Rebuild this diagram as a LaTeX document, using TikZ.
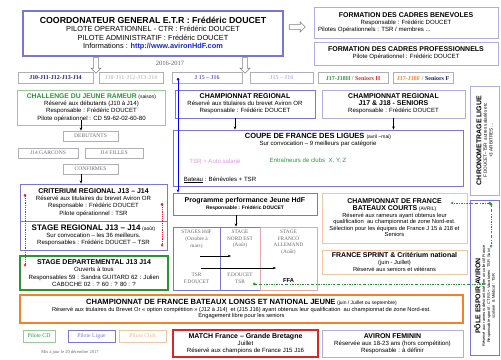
\documentclass[tikz,border=0pt]{standalone}
\usepackage{fontspec}
\setmainfont{Liberation Sans}
\newfontfamily\romain{Liberation Serif}
\usetikzlibrary{arrows,arrows.meta,shapes.arrows,positioning,calc}

\definecolor{ligue}{RGB}{120,120,210}
\definecolor{ligueclair}{RGB}{175,175,222}
\definecolor{gris}{RGB}{175,175,185}
\definecolor{cd}{RGB}{40,150,50}
\definecolor{cdclair}{RGB}{150,205,150}
\definecolor{club}{RGB}{240,130,40}
\definecolor{clubclair}{RGB}{240,200,160}
\definecolor{rouge}{RGB}{225,35,35}
\definecolor{rose}{RGB}{225,170,170}
\definecolor{mauve}{RGB}{225,150,230}
\definecolor{bleufonce}{RGB}{25,25,120}
\definecolor{lien}{RGB}{20,40,200}
\definecolor{violet}{RGB}{110,90,220}
\definecolor{violetclair}{RGB}{200,175,235}

\newcommand{\petit}{\fontsize{6.1}{7.2}\selectfont}
\newcommand{\titre}{\fontsize{7}{8.2}\selectfont\bfseries}
\newcommand{\mini}{\fontsize{5}{6}\selectfont}

\begin{document}
\begin{tikzpicture}
[x=1bp, y=-1bp, >={Stealth[length=3.2bp,width=2.6bp]},
every node/.style={inner sep=1bp, align=center},
taille/.style 2 args={minimum width=#1bp, minimum height=#2bp},
cadre/.style={draw=ligue, line width=0.8bp, font=\petit},
categorie/.style={draw=gris, line width=0.7bp, inner sep=0pt, font=\romain\fontsize{6}{7}\selectfont\bfseries},
niveau/.style={draw=gris, line width=0.6bp, inner sep=0pt, text=gray!85!black, font=\romain\fontsize{5.6}{6.5}\selectfont},
serif/.style={inner sep=0pt, text=gray!80!black, font=\romain\fontsize{5.3}{6.8}\selectfont},
legende/.style={line width=0.7bp, inner sep=0pt, font=\romain\fontsize{5.8}{6.5}\selectfont},
creuse/.style={single arrow, draw=gray, line width=0.6bp, minimum height=16bp, minimum width=10bp, single arrow head extend=2.5bp, inner sep=2bp},
fleche/.style={->, line width=0.7bp},
rouge pointille/.style={draw=rouge, line width=0.8bp, densely dotted, {Circle[length=2.6bp]}->},
vert pointille/.style={draw=cd, line width=0.8bp, dash pattern=on 2bp off 1.3bp on 0.6bp off 1.3bp, {Circle[length=2.6bp]}->}]
\useasboundingbox (0,0) rectangle (501,359);

% en-tete
\node[cadre, line width=1.3bp, taille={260}{45}, font=\fontsize{7.4}{8.5}\selectfont] (coord) at (153,33.5)
  {{\fontsize{8.8}{10}\selectfont\bfseries COORDONATEUR GENERAL E.T.R : Frédéric DOUCET}\\
   PILOTE OPERATIONNEL - CTR : Frédéric DOUCET\\
   PILOTE ADMINISTRATIF : Frédéric DOUCET\\
   Informations : {\bfseries\color{lien}http://www.avironHdF.com}};
\node[creuse, shape border rotate=270] (fbas1) at (96,64) {};
\node[creuse, shape border rotate=270] (fbas2) at (245,64) {};
\node[creuse] (fdroite) at (296,27) {};
\node[font=\romain\fontsize{6.5}{7}\selectfont, text=gray!70!black] (annee) at (170,63) {2016-2017};

\node[cadre, draw=ligueclair, taille={184}{31}] (benev) at (406,22.5)
  {{\titre FORMATION DES CADRES BENEVOLES}\\Responsable : Frédéric DOUCET\\\makebox[176bp][l]{Pilotes Opérationnels : TSR / membres ...}};
\node[cadre, draw=ligueclair, taille={184}{23}] (profes) at (406,53.5)
  {{\titre FORMATION DES CADRES PROFESSIONNELS}\\Pilote Opérationnel : Frédéric DOUCET};

% categories
\node[categorie, taille={75}{11}, text=bleufonce] (c1) at (55.5,78) {J10-J11-J12-J13-J14};
\node[categorie, taille={64}{11}, text=gray!45] (c2) at (131,78) {J10-J11-J12-J13-J14};
\node[categorie, taille={70}{11}, text=violet] (c3) at (207,78) {J 15 – J16};
\node[categorie, taille={63}{11}, text=violetclair] (c4) at (281.5,78) {J15 – J16};
\node[categorie, taille={70}{11}] (c5) at (353,78) {\textcolor{cd}{J17-J18H} \textcolor{gray}{/} \textcolor{rouge}{Seniors H}};
\node[categorie, taille={60}{11}] (c6) at (423,78) {\textcolor{club}{J17-J18F} \textcolor{gray}{/} \textcolor{bleufonce}{Seniors F}};

% colonne gauche
\node[cadre, draw=cdclair, line width=1bp, taille={147}{35}] (challenge) at (91.5,107.5)
  {{\fontsize{6.8}{8}\selectfont\bfseries\color{cd}CHALLENGE DU JEUNE RAMEUR} {\mini(saison)}\\Réservé aux débutants (J10 à J14)\\Responsable : Frédéric DOUCET\\Pilote opérationnel : CD 59-62-02-60-80};
\node[niveau, taille={55}{10}] (debutants) at (90.5,136) {DEBUTANTS};
\node[niveau, taille={60}{10}] (garcons) at (48,153) {J14 GARCONS};
\node[niveau, taille={58}{10}] (filles) at (114,153) {J14 FILLES};
\node[niveau, taille={55}{10}] (confirmes) at (90.5,169) {CONFIRMES};

\node[cadre, taille={147}{37}] (criterium) at (93.5,202.5)
  {{\titre CRITERIUM REGIONAL J13 – J14}\\Réservé aux titulaires du brevet Aviron OR\\Responsable : Frédéric DOUCET\\Pilote opérationnel : TSR};
\node[cadre, taille={147}{29}] (stagereg) at (93.5,235.5)
  {{\fontsize{8}{9}\selectfont\bfseries STAGE REGIONAL J13 – J14} {\mini(août)}\\Sur convocation – les 36 meilleurs.\\Responsables : Frédéric DOUCET – TSR};
\node[cadre, draw=cd, line width=1.8bp, taille={148}{34}] (stagedep) at (94,273)
  {{\titre STAGE DEPARTEMENTAL J13 J14}\\Ouverts à tous\\Responsables 59 : Sandra GUITARD 62 : Julien\\CABOCHE 02 : ? 60 : ? 80 : ?};

% colonne centrale
\node[cadre, taille={140}{28}] (champreg) at (245,104)
  {{\titre CHAMPIONNAT REGIONAL}\\Réservé aux titulaires du brevet Aviron OR\\Responsable : Frédéric DOUCET};
\node[cadre, taille={290}{56}] (coupe) at (318,158) {};
\node[font=\fontsize{7.5}{8.5}\selectfont\bfseries, below=2bp of coupe.north] (coupetitre) {COUPE DE FRANCE DES LIGUES {\mdseries\mini (avril –mai)}};
\node[font=\petit, below=0pt of coupetitre] (coupesous) {Sur convocation – 9 meilleurs par catégorie};
\node[font=\petit, text=mauve] (tsr) at (215,161) {TSR + Auto salarié};
\node[font=\petit, text=cd] (entraineurs) at (308,161) {Entraîneurs de clubs~ X, Y, Z};
\node[font=\petit] (bateau) at (220,180) {\underline{Bateau} : Bénévoles + TSR};

\node[cadre, taille={144}{22}] (progperf) at (245,204)
  {{\titre Programme performance Jeune HdF}\\{\bfseries\mini Responsable : Frédéric DOUCET}};
\node[cadre, taille={47}{63}] (hdf) at (196.5,258.5) {};
\node[cadre, taille={40}{63}] (nordest) at (240,258.5) {};
\node[cadre, draw=rose, taille={57}{63}] (franco) at (288.5,258.5) {};
\node[serif, below=3bp of hdf.north] (hdfhaut) {STAGES HdF\\(Octobre à\\mars)};
\node[serif, above=7bp of hdf.south] (hdfbas) {TSR\\F.DOUCET};
\node[serif, below=3bp of nordest.north] (nordhaut) {STAGE\\NORD EST\\(Août)};
\node[serif, above=7bp of nordest.south] (nordbas) {F.DOUCET\\TSR};
\node[serif, below=3bp of franco.north] (francohaut) {STAGE\\FRANCO\\ALLEMAND\\(Août)};
\node[font=\fontsize{5.8}{6.5}\selectfont\bfseries, above=7bp of franco.south] (ffa) {FFA};

% colonne droite
\node[cadre, draw=ligueclair, taille={143}{28}] (champsen) at (393.5,104)
  {{\titre CHAMPIONNAT REGIONAL}\\{\titre J17 \& J18 - SENIORS}\\Responsable : Frédéric DOUCET};
\node[cadre, draw=clubclair, taille={145}{50}, font=\fontsize{5.8}{6.6}\selectfont] (bcourts) at (394.5,218)
  {{\titre CHAMPIONNAT DE FRANCE}\\{\titre BATEAUX COURTS} {\mini (AVRIL)}\\Réservé aux rameurs ayant obtenus leur\\qualification~ au championnat de zone Nord-est.\\Sélection pour les équipes de France J 15 à J18 et\\Seniors};
\node[cadre, draw=clubclair, taille={145}{24}, font=\fontsize{5.8}{6.8}\selectfont] (sprint) at (394.5,262)
  {{\titre FRANCE SPRINT \& Critérium national}\\(juin - Juillet)\\Réservé aux seniors et vétérans};

% bas
\node[cadre, draw=club, line width=1.8bp, taille={443}{28}, font=\fontsize{5.7}{6.8}\selectfont] (blongs) at (241.5,309)
  {{\fontsize{7.6}{8}\selectfont\bfseries CHAMPIONNAT DE FRANCE BATEAUX LONGS ET NATIONAL JEUNE} {\mini (juin / Juillet ou septembre)}\\Réservé aux titulaires du Brevet Or « option compétition » (J12 à J14)~ et (J15 J16) ayant obtenus leur qualification~ au championnat de zone Nord-est.\\Engagement libre pour les seniors};
\node[legende, draw=cdclair, taille={32}{12}, text=cd] (pcd) at (39,336) {Pilote CD};
\node[legende, draw=ligue, taille={47}{12}, text=ligue] (pligue) at (91.5,336) {Pilote Ligue};
\node[legende, draw=clubclair, taille={47}{12}, text=club!60] (pclub) at (142.5,336) {Pilote Club};
\node[font=\romain\fontsize{4.5}{5}\selectfont, text=gray!80!black] (maj) at (70,352) {Mis à jour le 20 décembre 2017};
\node[cadre, draw=rouge, line width=1.8bp, taille={145}{27}] (match) at (245.5,343.5)
  {{\titre MATCH France – Grande Bretagne}\\Juillet\\Réservé aux champions de France J15 J16};
\node[cadre, draw=ligueclair, taille={141}{27}] (feminin) at (392.5,343.5)
  {{\titre AVIRON FEMININ}\\Réservée aux 18-23 ans (hors compétition)\\Responsable : à définir};

% bord droit
\node[cadre, draw=ligueclair, rotate=90, taille={109}{29}, font=\fontsize{4.6}{5.6}\selectfont] (chrono) at (484.5,140.5)
  {{\titre CHRONOMETRAGE LIGUE}\\F DOUCET–TSR~ autres salariés etc\\+3 ARBITRES ...};
\node[draw=ligue, line width=0.8bp, rotate=90, taille={155}{29}] (pole) at (484.5,277.5) {};
\node[rotate=90, font=\fontsize{4}{4.8}\selectfont] (poletexte) at (484.5,296)
  {{\titre PÔLE ESPOIR AVIRON}\\Réservé aux rameurs désirant intégrer un collectif France\\Responsable sportif : CTRS + Vacataires~ TSR~ Suivi\\scolaire~ \& Médical : TSR};

% liaisons
\coordinate (axe) at (81,0);
\coordinate (axe2) at (235,0);
\coordinate (axe3) at (236,0);
\draw[fleche] ($(challenge.south -| axe)+(0,-6)$) -- (debutants.north -| axe);
\draw[fleche] (confirmes.south -| axe) -- (criterium.north -| axe);
\draw[fleche] (champreg.south -| axe2) -- (coupe.north -| axe2);
\draw[fleche] (champsen.south) -- (champsen.south |- coupe.north);
\draw[fleche] (progperf.south -| axe3) -- (nordest.north -| axe3);

\coordinate (h1) at (200,256);
\coordinate (h1fin) at (231,256);
\coordinate (h2) at (201,268);
\coordinate (h2fin) at (276,268);
\draw[fleche] (h1) -- (h1fin);
\draw[fleche] (h2) -- (h2fin);

\coordinate (pointbleu) at (178,78);
\draw[draw=blue, line width=0.7bp, {Circle[length=2.6bp]}->] (pointbleu) -- (pointbleu |- progperf.north);

\coordinate (r1) at (25,194);
\coordinate (r1fin) at (25,267);
\coordinate (r2) at (162,203);
\coordinate (r2fin) at (162,247);
\draw[rouge pointille] (r1) -- (r1fin);
\draw[rouge pointille] (r2) -- (r2fin);

\coordinate (v1) at (253,284);
\coordinate (v2) at (491,203);
\coordinate (vfin) at (491,248);
\draw[vert pointille] (v1) -- (v1 -| pole.west);
\draw[vert pointille] (v2) -- ($(v2 -| bcourts.east)+(-17,0)$);
\draw[vert pointille] (v2) -- (vfin);
\end{tikzpicture}
\end{document}
